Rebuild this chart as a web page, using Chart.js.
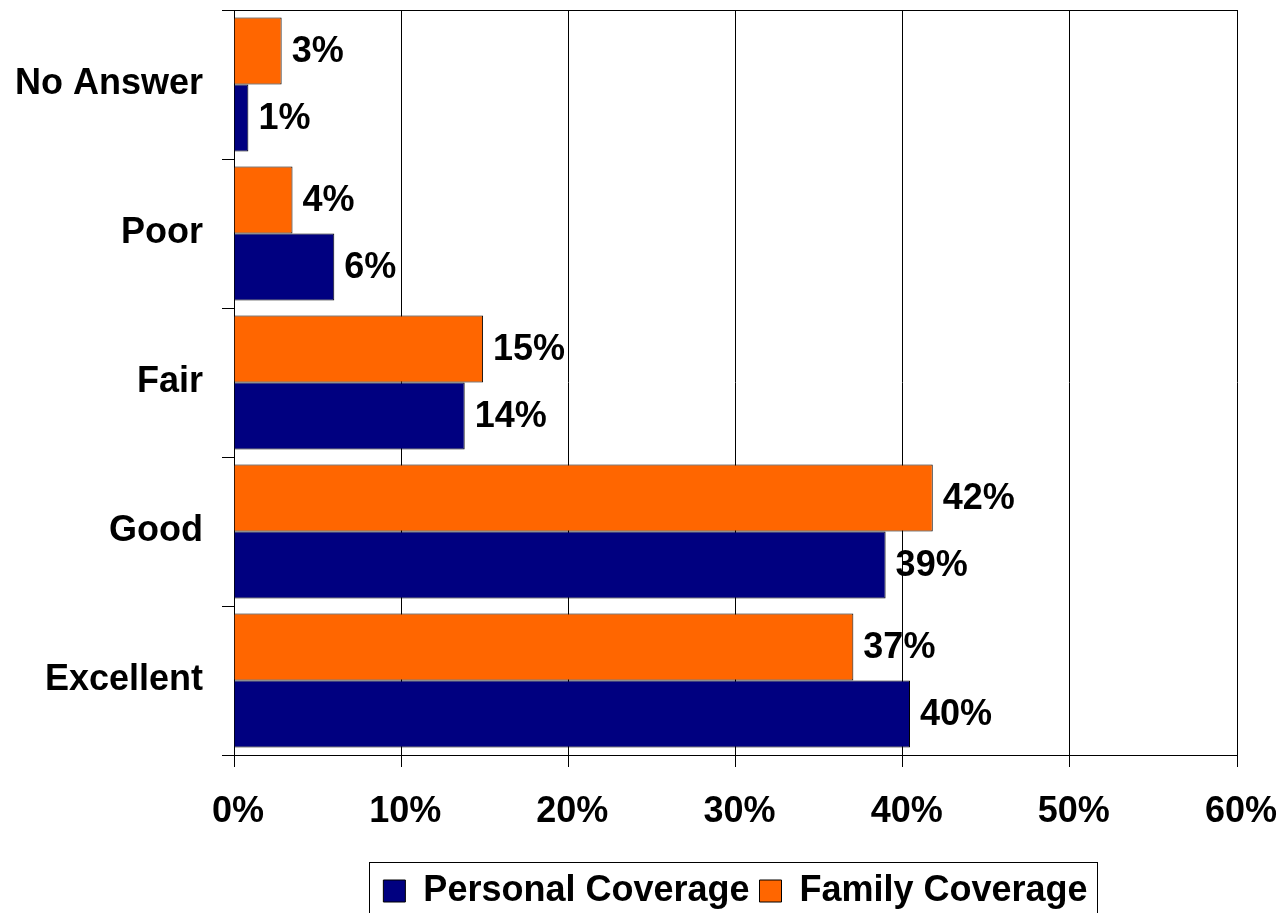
<!DOCTYPE html>
<html>
<head>
<meta charset="utf-8">
<script src="https://cdn.jsdelivr.net/npm/chart.js@4/dist/chart.umd.min.js"></script>
<style>
  html, body { margin: 0; padding: 0; background: #fff; overflow: hidden; }
  #wrap { position: relative; width: 1280px; height: 919px; }
</style>
</head>
<body>
<div id="wrap"><canvas id="c"></canvas></div>
<script>
const categories = ['No Answer', 'Poor', 'Fair', 'Good', 'Excellent'];
const familyValues = [2.85, 3.5, 14.9, 41.8, 37.05];
const personalValues = [0.86, 6.0, 13.8, 38.98, 40.44];
const xTicks = [0, 10, 20, 30, 40, 50, 60];

const FONT = '"Liberation Sans", Arial, sans-serif';

const valueLabels = {
  id: 'valueLabels',
  afterDatasetsDraw(chart) {
    const ctx = chart.ctx;
    ctx.save();
    ctx.font = 'bold 36px ' + FONT;
    ctx.fillStyle = '#000';
    ctx.textAlign = 'left';
    ctx.textBaseline = 'middle';
    chart.data.datasets.forEach((ds, di) => {
      const meta = chart.getDatasetMeta(di);
      meta.data.forEach((bar, i) => {
        ctx.fillText(Math.round(ds.data[i]) + '%', bar.x + 10, bar.y + 1);
      });
    });
    ctx.restore();
  }
};

const legendBorder = {
  id: 'legendBorder',
  afterDraw(chart) {
    const lg = chart.legend;
    if (!lg || !lg.legendHitBoxes || !lg.legendHitBoxes.length) return;
    const hb = lg.legendHitBoxes;
    let l = Infinity, r = -Infinity, t = Infinity;
    hb.forEach(h => { l = Math.min(l, h.left); r = Math.max(r, h.left + h.width); t = Math.min(t, h.top); });
    const ctx = chart.ctx;
    ctx.save();
    ctx.strokeStyle = '#000';
    ctx.lineWidth = 1;
    ctx.strokeRect(Math.round(l - 14) + 0.5, Math.round(t - 11) + 0.5, Math.round(r - l + 24), chart.height);
    ctx.restore();
  }
};

function zeroPad(scale) {
  scale.paddingTop = 0; scale.paddingBottom = 0;
  scale.paddingLeft = 0; scale.paddingRight = 0;
}

new Chart(document.getElementById('c'), {
  type: 'bar',
  data: {
    labels: categories,
    datasets: [
      { label: 'Family Coverage', data: familyValues, backgroundColor: '#FF6600', borderColor: '#000', borderWidth: 1 },
      { label: 'Personal Coverage', data: personalValues, backgroundColor: '#000080', borderColor: '#000', borderWidth: 1 }
    ]
  },
  options: {
    indexAxis: 'y',
    responsive: true,
    maintainAspectRatio: false,
    animation: false,
    datasets: { bar: { categoryPercentage: 0.9, barPercentage: 1.0 } },
    layout: { padding: { left: 0, right: 43, top: 10, bottom: 0 } },
    scales: {
      x: {
        min: 0, max: 60,
        afterBuildTicks(scale) { scale.ticks = xTicks.map(v => ({ value: v })); },
        afterFit(scale) { scale.height = 108; zeroPad(scale); },
        ticks: {
          callback: v => v + '%',
          color: '#000',
          font: { family: FONT, size: 36, weight: 'bold' },
          padding: 23,
          labelOffset: 4,
          maxRotation: 0
        },
        grid: { color: '#000', lineWidth: 1, tickLength: 12, tickColor: '#000' },
        border: { color: '#000', width: 1 }
      },
      y: {
        afterFit(scale) { scale.width = 234; zeroPad(scale); },
        ticks: {
          color: '#000',
          font: { family: FONT, size: 36, weight: 'bold' },
          padding: 19
        },
        grid: {
          color: ctx => ctx.index === 0 ? '#000' : 'rgba(0,0,0,0)',
          tickColor: '#000',
          tickLength: 12,
          lineWidth: 1
        },
        border: { color: '#000', width: 1 }
      }
    },
    plugins: {
      legend: {
        position: 'bottom',
        fullSize: false,
        reverse: true,
        labels: {
          boxWidth: 22,
          boxHeight: 22,
          padding: 10,
          color: '#000',
          font: { family: FONT, size: 36, weight: 'bold' }
        }
      },
      tooltip: { enabled: false }
    }
  },
  plugins: [valueLabels, legendBorder]
});
</script>
</body>
</html>
